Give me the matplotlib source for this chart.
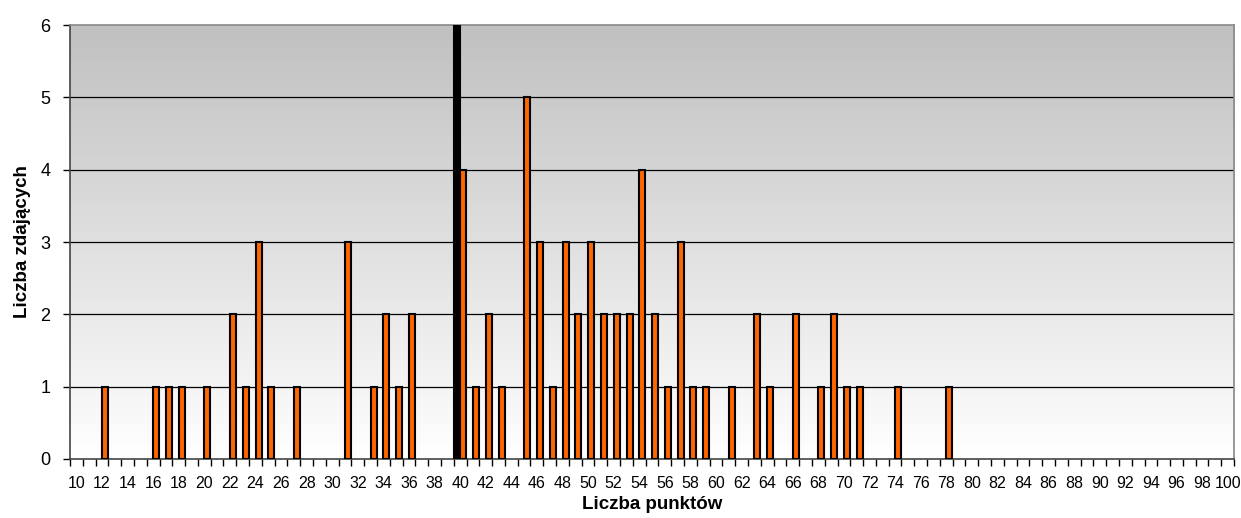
import numpy as np
import matplotlib.pyplot as plt

plt.rcParams['font.family'] = ['Liberation Sans', 'DejaVu Sans']

# points scored -> number of students
points = [12, 16, 17, 18, 20, 22, 23, 24, 25, 27, 31, 33, 34, 35, 36,
          40, 41, 42, 43, 45, 46, 47, 48, 49, 50, 51, 52, 53, 54, 55,
          56, 57, 58, 59, 61, 63, 64, 66, 68, 69, 70, 71, 74, 78]
counts = [1, 1, 1, 1, 1, 2, 1, 3, 1, 1, 3, 1, 2, 1, 2,
          4, 1, 2, 1, 5, 3, 1, 3, 2, 3, 2, 2, 2, 4, 2,
          1, 3, 1, 1, 1, 2, 1, 2, 1, 2, 1, 1, 1, 1]
# pass threshold marker
threshold_x = [40]
threshold_y = [6]

categories = np.arange(10, 101)

fig = plt.figure(figsize=(12.41, 5.18), dpi=100)
ax = fig.add_axes([0.0564, 0.1139, 0.938, 0.8378])

xmin, xmax = categories[0] - 0.5, categories[-1] + 0.5
ymin, ymax = 0, 6

# gradient background (gray top -> white bottom)
grad = np.linspace(0, 1, 256).reshape(-1, 1)
ax.imshow(grad, extent=[xmin, xmax, ymin, ymax], aspect='auto', origin='upper',
          cmap=plt.matplotlib.colors.LinearSegmentedColormap.from_list(
              'bg', ['#c0c0c0', '#ffffff']), zorder=0)

for y in range(1, 6):
    ax.axhline(y, color='black', lw=0.9, zorder=1)

w = 0.47
ax.bar(np.array(threshold_x) - 0.24, threshold_y, width=w, color='black',
       edgecolor='black', lw=1.5, zorder=3)
ax.bar(np.array(points) + 0.24, counts, width=w, color='#ff6600',
       edgecolor='black', lw=1.5, zorder=3)

ax.set_xlim(xmin, xmax)
ax.set_ylim(ymin, ymax)

ax.set_xticks(np.arange(xmin, xmax + 0.01, 1))
ax.set_xticklabels([])
ax.set_xticks(categories[::2], minor=True)
ax.set_xticklabels([str(c) for c in categories[::2]], minor=True)
ax.tick_params(axis='x', which='major', length=5, width=1, color='black')
ax.tick_params(axis='x', which='minor', length=0, pad=12, labelsize=11.5)
ax.set_yticks(range(0, 7))
ax.tick_params(axis='y', length=5, width=1, labelsize=13, pad=9)

for s in ['left', 'bottom']:
    ax.spines[s].set_color('#444444')
    ax.spines[s].set_linewidth(1.2)
for s in ['top', 'right']:
    ax.spines[s].set_color('#888888')
    ax.spines[s].set_linewidth(1.2)

ax.set_xlabel('Liczba punktów', fontsize=13.5, fontweight='bold', labelpad=4)
ax.set_ylabel('Liczba zdających', fontsize=13.5, fontweight='bold', labelpad=7)

fig.savefig('out.png', dpi=100)
